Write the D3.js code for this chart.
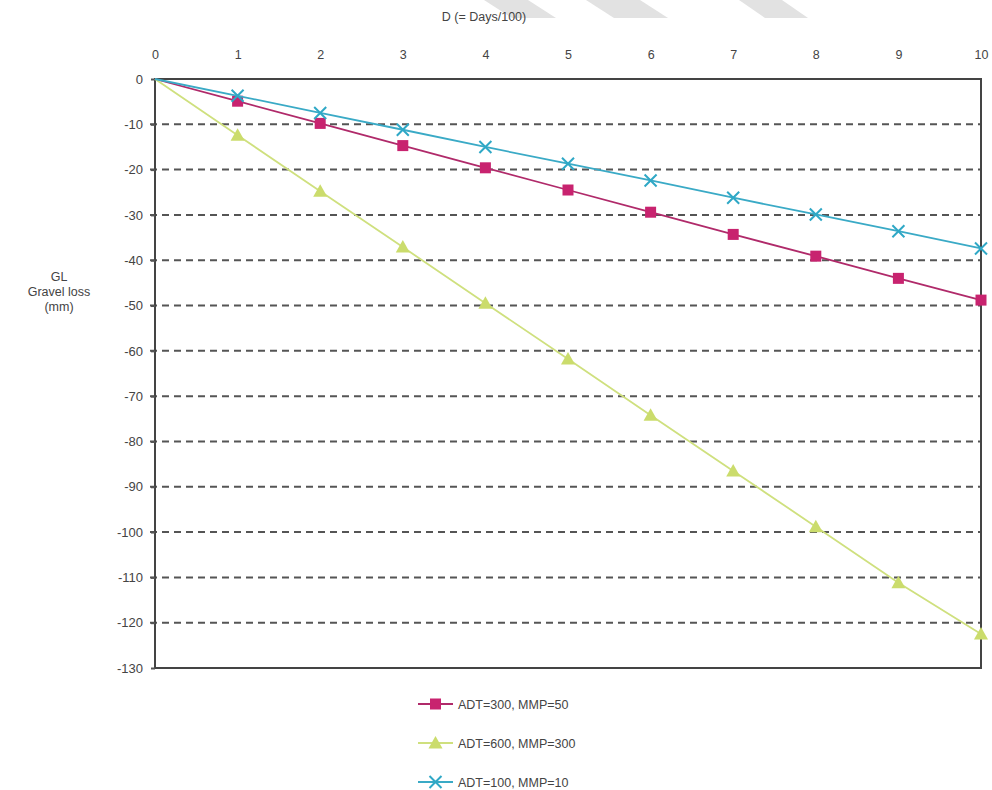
<!DOCTYPE html>
<html>
<head>
<meta charset="utf-8">
<script src="https://cdn.jsdelivr.net/npm/d3@7"></script>
<style>
  html, body { margin: 0; padding: 0; background: #fff; }
  svg { display: block; font-family: "Liberation Sans", Arial, sans-serif; }
</style>
</head>
<body>
<svg id="chart"></svg>
<script>
const width = 992;
const height = 790;

// Data
const days = [0, 1, 2, 3, 4, 5, 6, 7, 8, 9, 10];
const adt300 = [0, -4.9, -9.8, -14.7, -19.6, -24.5, -29.4, -34.3, -39.1, -44.0, -48.8];
const adt600 = [0, -12.4, -24.8, -37.1, -49.5, -61.8, -74.2, -86.5, -98.8, -111.2, -122.5];
const adt100 = [0, -3.7, -7.5, -11.2, -15.0, -18.7, -22.4, -26.2, -29.9, -33.6, -37.4];
const seriesNames = ["ADT=300, MMP=50", "ADT=600, MMP=300", "ADT=100, MMP=10"];
const yTicks = d3.range(0, -131, -10);

const series = [
    { name: seriesNames[0], values: adt300, color: "#c8236f", lineColor: "#b02a6a", marker: "square" },
    { name: seriesNames[1], values: adt600, color: "#cbdc6c", lineColor: "#cfe07e", marker: "triangle" },
    { name: seriesNames[2], values: adt100, color: "#2fa8c6", lineColor: "#3aaac6", marker: "cross" }
];

const svg = d3.select("#chart")
    .attr("width", width)
    .attr("height", height);

// light watermark bands at the top edge
const bands = [
    [[484, 0], [528, 0], [556, 18], [512, 18]],
    [[586, 0], [640, 0], [668, 18], [614, 18]],
    [[739, 0], [782, 0], [808, 18], [765, 18]]
];
svg.selectAll("polygon.band")
    .data(bands)
    .enter()
    .append("polygon")
    .attr("class", "band")
    .attr("points", d => d.map(p => p.join(",")).join(" "))
    .attr("fill", "#e2e2e2");

const x = d3.scaleLinear().domain([0, 10]).range([155, 981]);
const y = d3.scaleLinear().domain([0, -130]).range([79, 668]);

// plain hyphen for negatives, as in the original
const fmt = d => String(d);

// dashed grid lines
svg.append("g")
    .selectAll("line")
    .data(yTicks.filter(t => t !== 0 && t !== -130))
    .enter()
    .append("line")
    .attr("x1", x(0) - 5)
    .attr("x2", x(10))
    .attr("y1", d => y(d))
    .attr("y2", d => y(d))
    .attr("stroke", "#555")
    .attr("stroke-width", 2)
    .attr("stroke-dasharray", "7,5");

// frame
svg.append("rect")
    .attr("x", x(0))
    .attr("y", y(0))
    .attr("width", x(10) - x(0))
    .attr("height", y(-130) - y(0))
    .attr("fill", "none")
    .attr("stroke", "#444")
    .attr("stroke-width", 2);

// top axis
const xAxis = svg.append("g")
    .attr("transform", `translate(0,${y(0) - 17})`)
    .call(d3.axisTop(x).tickValues(days).tickSize(0).tickFormat(fmt));
xAxis.select(".domain").remove();
xAxis.selectAll("text")
    .attr("font-size", 12.5)
    .attr("fill", "#444")
    .attr("font-family", "Liberation Sans, Arial, sans-serif");

// left axis
const yAxis = svg.append("g")
    .attr("transform", `translate(${x(0)},0)`)
    .call(d3.axisLeft(y).tickValues(yTicks).tickSize(4).tickPadding(8).tickFormat(fmt));
yAxis.select(".domain").remove();
yAxis.selectAll("line").attr("stroke", "#555").attr("stroke-width", 2);
yAxis.selectAll("text")
    .attr("font-size", 13)
    .attr("fill", "#444")
    .attr("font-family", "Liberation Sans, Arial, sans-serif");

// axis titles
svg.append("text")
    .attr("x", 484)
    .attr("y", 21)
    .attr("text-anchor", "middle")
    .attr("font-size", 12.5)
    .attr("fill", "#444")
    .text("D (= Days/100)");

svg.append("text")
    .attr("text-anchor", "middle")
    .attr("font-size", 12.5)
    .attr("fill", "#444")
    .selectAll("tspan")
    .data(["GL", "Gravel loss", "(mm)"])
    .enter()
    .append("tspan")
    .attr("x", 59)
    .attr("y", (d, i) => 281 + i * 15)
    .text(d => d);

// marker drawing
function drawMarker(g, type, color) {
    if (type === "square") {
        g.append("rect")
            .attr("x", -5.5).attr("y", -5.5)
            .attr("width", 11).attr("height", 11)
            .attr("fill", color);
    } else if (type === "triangle") {
        g.append("path")
            .attr("d", "M0,-7 L7,5.5 L-7,5.5 Z")
            .attr("fill", color);
    } else {
        g.append("path")
            .attr("d", "M-6,-6 L6,6 M-6,6 L6,-6")
            .attr("stroke", color)
            .attr("stroke-width", 2)
            .attr("fill", "none");
    }
}

const line = d3.line()
    .x((d, i) => x(days[i]))
    .y(d => y(d));

series.forEach(s => {
    svg.append("path")
        .datum(s.values)
        .attr("d", line)
        .attr("fill", "none")
        .attr("stroke", s.lineColor)
        .attr("stroke-width", 1.8);

    svg.append("g")
        .selectAll("g")
        .data(s.values.slice(1))
        .enter()
        .append("g")
        .attr("transform", (d, i) => `translate(${x(days[i + 1])},${y(d)})`)
        .each(function () { drawMarker(d3.select(this), s.marker, s.color); });
});

// legend
const legend = svg.append("g")
    .selectAll("g")
    .data(series)
    .enter()
    .append("g")
    .attr("transform", (d, i) => `translate(418,${704 + i * 39})`);

legend.append("line")
    .attr("x1", 0).attr("x2", 35)
    .attr("stroke", d => d.lineColor)
    .attr("stroke-width", 1.8);

legend.append("g")
    .attr("transform", "translate(17.5,0)")
    .each(function (d) { drawMarker(d3.select(this), d.marker, d.color); });

legend.append("text")
    .attr("x", 40)
    .attr("y", 4.5)
    .attr("font-size", 12.5)
    .attr("fill", "#444")
    .text(d => d.name);
</script>
</body>
</html>
